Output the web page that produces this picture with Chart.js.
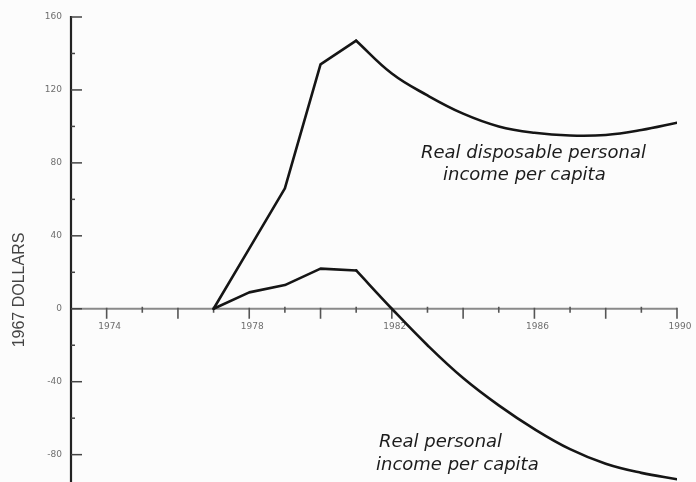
<!DOCTYPE html>
<html>
<head>
<meta charset="utf-8">
<script src="https://cdn.jsdelivr.net/npm/chart.js@4"></script>
<style>
  html, body { margin: 0; padding: 0; background: #fcfcfc; }
  #wrap { width: 696px; height: 482px; position: relative; }
</style>
</head>
<body>
<div id="wrap"><canvas id="chart" width="696" height="482"></canvas></div>
<script>
// values (1967 dollars)
const years = [1977, 1978, 1979, 1980, 1981, 1982, 1983, 1984, 1985, 1986, 1987, 1988, 1989, 1990];
const disposableIncome = [0, 33, 66, 134, 147, 129, 117, 107, 100, 96.5, 95, 95.3, 98, 102];
const personalIncome = [0, 9, 13, 22, 21, 0, -20, -38, -53, -66, -77, -85, -90, -93.5];
// the early years are straight segments, after the peak the curves are smooth
const breakYear = 1981;

const yTicks = [160, 120, 80, 40, 0, -40, -80];
const yMinorTicks = [140, 100, 60, 20, -20, -60];
const xLabels = [1974, 1978, 1982, 1986, 1990];
const xMajorTicks = [1974, 1976, 1978, 1980, 1982, 1984, 1986, 1988, 1990];
const xMinorTicks = [1975, 1977, 1979, 1981, 1983, 1985, 1987, 1989];

const toPoints = (vals) => years.map((y, i) => ({ x: y, y: vals[i] }));
const splitAt = years.indexOf(breakYear);

const ink = '#151515';

const axesPlugin = {
    id: 'scanAxes',
    beforeDatasetsDraw(chart) {
        const { ctx, scales: { x, y } } = chart;
        const x0 = x.getPixelForValue(1973);
        const xEnd = x.getPixelForValue(1990);
        const yZero = y.getPixelForValue(0);
        ctx.save();
        // horizontal zero axis, faint gray like the scan
        ctx.strokeStyle = '#8a8a8a';
        ctx.lineWidth = 2;
        ctx.beginPath();
        ctx.moveTo(x0, yZero);
        ctx.lineTo(xEnd, yZero);
        ctx.stroke();
        ctx.strokeStyle = '#555';
        ctx.lineWidth = 1.6;
        xMajorTicks.forEach(t => {
            const px = x.getPixelForValue(t);
            ctx.beginPath(); ctx.moveTo(px, yZero - 1); ctx.lineTo(px, yZero + 10); ctx.stroke();
        });
        xMinorTicks.forEach(t => {
            const px = x.getPixelForValue(t);
            ctx.beginPath(); ctx.moveTo(px, yZero - 2); ctx.lineTo(px, yZero + 4); ctx.stroke();
        });
        // vertical axis
        ctx.strokeStyle = '#222';
        ctx.lineWidth = 2.2;
        ctx.beginPath();
        ctx.moveTo(x0, y.getPixelForValue(160) - 1);
        ctx.lineTo(x0, chart.height);
        ctx.stroke();
        ctx.strokeStyle = '#444';
        ctx.lineWidth = 1.5;
        yTicks.forEach(t => {
            const py = y.getPixelForValue(t);
            ctx.beginPath(); ctx.moveTo(x0, py); ctx.lineTo(x0 + 11, py); ctx.stroke();
        });
        yMinorTicks.forEach(t => {
            const py = y.getPixelForValue(t);
            ctx.beginPath(); ctx.moveTo(x0, py); ctx.lineTo(x0 + 4, py); ctx.stroke();
        });
        // tick labels
        ctx.fillStyle = '#6e6e6e';
        ctx.font = '9px "DejaVu Sans"';
        ctx.textAlign = 'right';
        ctx.textBaseline = 'middle';
        yTicks.forEach(t => {
            ctx.fillText(t < 0 ? '-' + Math.abs(t) : String(t), x0 - 9, y.getPixelForValue(t));
        });
        ctx.textAlign = 'center';
        ctx.textBaseline = 'top';
        xLabels.forEach(t => {
            ctx.fillText(String(t), x.getPixelForValue(t) + 3, yZero + 13);
        });
        // axis title
        ctx.save();
        ctx.translate(20, 290);
        ctx.rotate(-Math.PI / 2);
        ctx.fillStyle = '#444';
        ctx.font = '16px "Liberation Sans"';
        ctx.textAlign = 'center';
        ctx.textBaseline = 'middle';
        ctx.fillText('1967 DOLLARS', 0, 0);
        ctx.restore();
        ctx.restore();
    },
    afterDatasetsDraw(chart) {
        const { ctx } = chart;
        ctx.save();
        ctx.fillStyle = '#1c1c1c';
        ctx.font = 'italic 18px "DejaVu Sans"';
        ctx.textAlign = 'left';
        ctx.textBaseline = 'alphabetic';
        ctx.fillText('Real disposable personal', 421, 158);
        ctx.fillText('income per capita', 443, 180);
        ctx.fillText('Real personal', 379, 447);
        ctx.fillText('income per capita', 376, 470);
        ctx.restore();
    }
};

const lineStyle = {
    borderColor: ink,
    borderWidth: 2.6,
    pointRadius: 0,
    fill: false,
    borderJoinStyle: 'round',
    borderCapStyle: 'round'
};

new Chart(document.getElementById('chart').getContext('2d'), {
    type: 'line',
    data: {
        datasets: [
            { ...lineStyle, label: 'Real disposable personal income per capita', data: toPoints(disposableIncome).slice(0, splitAt + 1), tension: 0 },
            { ...lineStyle, label: 'Real disposable personal income per capita (after 1981)', data: toPoints(disposableIncome).slice(splitAt), tension: 0.4 },
            { ...lineStyle, label: 'Real personal income per capita', data: toPoints(personalIncome).slice(0, splitAt + 1), tension: 0 },
            { ...lineStyle, label: 'Real personal income per capita (after 1981)', data: toPoints(personalIncome).slice(splitAt), tension: 0.4 }
        ]
    },
    options: {
        responsive: false,
        animation: false,
        layout: { padding: { left: 71, right: 19, top: 17, bottom: 0 } },
        plugins: { legend: { display: false }, tooltip: { enabled: false } },
        scales: {
            x: { type: 'linear', min: 1973, max: 1990, display: false },
            y: { type: 'linear', min: -95, max: 160, display: false }
        }
    },
    plugins: [axesPlugin]
});
</script>
</body>
</html>
